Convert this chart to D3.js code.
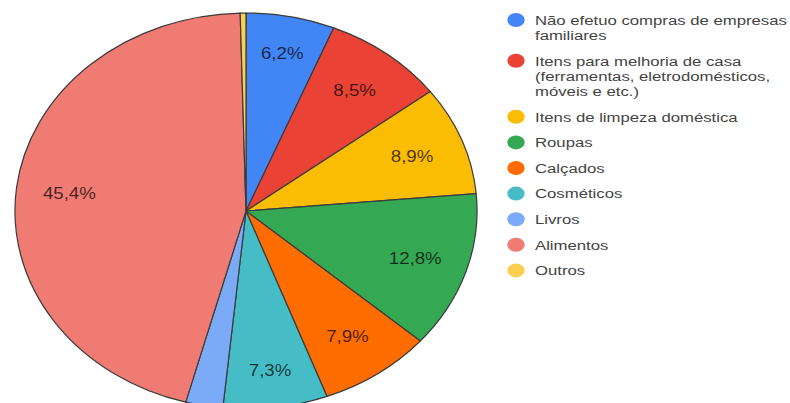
<!DOCTYPE html>
<html>
<head>
<meta charset="utf-8">
<script src="https://cdn.jsdelivr.net/npm/d3@7/dist/d3.min.js"></script>
<style>
  html, body { margin: 0; padding: 0; background: #fff; }
  svg { display: block; }
</style>
</head>
<body>
<svg id="chart" width="790" height="403"></svg>
<script>
// Tipos de produto comprados de empresas familiares (%)
const categories = [
  ["Não efetuo compras de empresas", "familiares"],
  ["Itens para melhoria de casa", "(ferramentas, eletrodomésticos,", "móveis e etc.)"],
  ["Itens de limpeza doméstica"],
  ["Roupas"],
  ["Calçados"],
  ["Cosméticos"],
  ["Livros"],
  ["Alimentos"],
  ["Outros"]
];
const values = [6.2, 8.5, 8.9, 12.8, 7.9, 7.3, 2.6, 45.4, 0.4];
const colors = ["#4285f4", "#ea4335", "#fbbc04", "#34a853", "#ff6d01",
                "#46bdc6", "#7baaf7", "#f07b72", "#fcd04f"];
const minLabelValue = 5;

const stretchX = 1.167;         // horizontal stretch of the pie
const legendStretchX = 1.24;    // horizontal stretch of the legend
const R = 198;                  // pie radius (vertical)
const cx = 246, cy = 211;       // pie centre in page pixels

const svg = d3.select("#chart");
const fmt = v => d3.format(".1f")(v).replace(".", ",") + "%";

const pie = d3.pie().sort(null).value(d => d);
const arcs = pie(values);
const arc = d3.arc().innerRadius(0).outerRadius(R);
// narrow slices get their label pushed a bit further out
const labelRadius = d => (d.endAngle - d.startAngle) < 0.49 ? R * 0.81 : R * 0.77;
const labelPos = d => {
  const a = (d.startAngle + d.endAngle) / 2, r = labelRadius(d);
  return [Math.sin(a) * r, -Math.cos(a) * r];
};

const color = d3.scaleOrdinal().domain(d3.range(values.length)).range(colors);

const g = svg.append("g")
  .attr("transform", `translate(${cx},${cy}) scale(${stretchX},1)`);

g.selectAll("path.slice")
  .data(arcs)
  .join("path")
  .attr("class", "slice")
  .attr("d", arc)
  .attr("fill", (d, i) => color(i))
  .attr("stroke", "#3b3b3b")
  .attr("stroke-width", 1.2)
  .attr("vector-effect", "non-scaling-stroke");

g.selectAll("text.pct")
  .data(arcs.filter(d => d.data >= minLabelValue))
  .join("text")
  .attr("class", "pct")
  .attr("transform", d => `translate(${labelPos(d)})`)
  .attr("text-anchor", "middle")
  .attr("dy", "0.36em")
  .attr("font-family", "Arial, 'Liberation Sans', sans-serif")
  .attr("font-size", 16)
  .attr("fill", "#000")
  .attr("fill-opacity", 0.72)
  .text(d => fmt(d.data));

// Legend
const legend = svg.append("g")
  .attr("transform", `scale(${legendStretchX},1)`);
const lineH = 15.2, itemGap = 25.6, legendTop = 20;
const legX = 516 / legendStretchX, legTextX = 535 / legendStretchX;
let y = legendTop;
const rows = categories.map((lines, i) => {
  const r = { lines, i, y };
  y += (lines.length - 1) * lineH + itemGap;
  return r;
});

const item = legend.selectAll("g.item")
  .data(rows)
  .join("g")
  .attr("class", "item")
  .attr("transform", d => `translate(0,${d.y})`);

item.append("circle")
  .attr("cx", legX)
  .attr("cy", 0)
  .attr("r", 7)
  .attr("fill", d => color(d.i));

item.append("text")
  .attr("x", legTextX)
  .attr("font-family", "Arial, 'Liberation Sans', sans-serif")
  .attr("font-size", 13.5)
  .attr("fill", "#444")
  .selectAll("tspan")
  .data(d => d.lines)
  .join("tspan")
  .attr("x", legTextX)
  .attr("y", (d, j) => j * lineH)
  .attr("dy", "0.36em")
  .text(d => d);
</script>
</body>
</html>
